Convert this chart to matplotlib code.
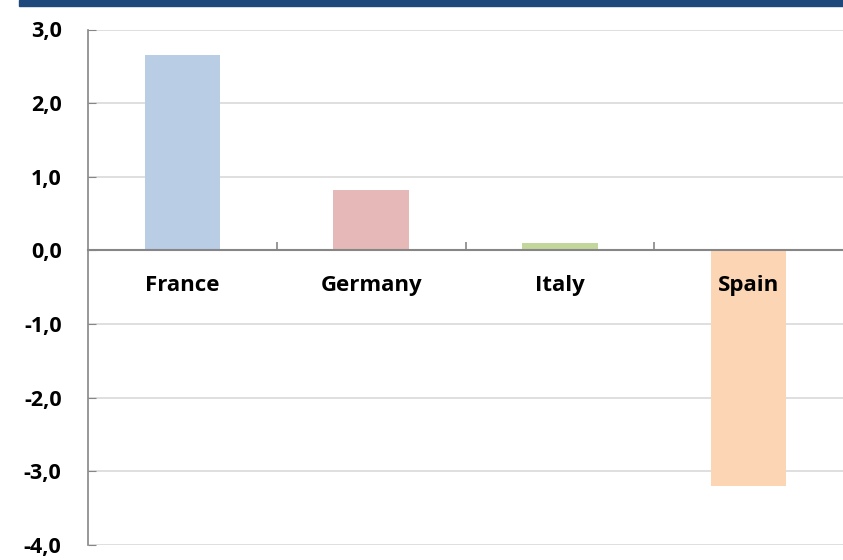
import matplotlib
matplotlib.use('Agg')
import matplotlib.pyplot as plt
from matplotlib.ticker import FixedLocator, FuncFormatter
from matplotlib.patches import Rectangle

countries = ['France', 'Germany', 'Italy', 'Spain']
values = [2.65, 0.82, 0.10, -3.20]
colors = ['#B9CDE5', '#E6B9B8', '#C3D69B', '#FCD5B5']
y_ticks = [-4, -3, -2, -1, 0, 1, 2, 3]

plt.rcParams['font.family'] = ['Open Sans', 'DejaVu Sans']

fig = plt.figure(figsize=(8.43, 5.60), dpi=100)
ax = fig.add_axes([88 / 843, 1 - 545 / 560, 1 - 88 / 843, (545 - 29.5) / 560])

# dark header band across the top
fig.patches.append(Rectangle((19 / 843, 1 - 6 / 560), 1, 6 / 560,
                             transform=fig.transFigure, color='#1F497D', zorder=5))

x = list(range(len(countries)))
ax.bar(x, values, width=0.4, color=colors, zorder=2)

ax.set_xlim(-0.5, len(countries) - 0.5)
ax.set_ylim(-4, 3)
ax.set_yticks(y_ticks)
ax.yaxis.set_major_formatter(FuncFormatter(lambda v, p: ('%.1f' % v).replace('.', ',')))
ax.yaxis.grid(True, color='#D9D9D9', lw=1.2, zorder=0)
ax.set_axisbelow(True)

for lab in ax.get_yticklabels():
    lab.set_fontweight('bold')
    lab.set_fontsize(15.5)
ax.tick_params(axis='y', direction='in', length=6, color='#868686', pad=19)

# category axis sits at zero with boundary ticks pointing up
ax.spines['top'].set_visible(False)
ax.spines['right'].set_visible(False)
ax.spines['left'].set_color('#868686')
ax.spines['left'].set_linewidth(1.2)
ax.spines['bottom'].set_position(('data', 0))
ax.spines['bottom'].set_color('#868686')
ax.spines['bottom'].set_linewidth(1.5)
ax.spines['bottom'].set_zorder(3)
ax.xaxis.set_major_locator(FixedLocator([0.5, 1.5, 2.5]))
ax.xaxis.set_major_formatter(FuncFormatter(lambda v, p: ''))
ax.tick_params(axis='x', direction='in', length=6, color='#868686', width=1.2)

for xi, name in zip(x, countries):
    ax.text(xi, -0.47, name, ha='center', va='center', fontsize=16,
            fontweight='bold', zorder=4)

fig.savefig('out.png', dpi=100)
